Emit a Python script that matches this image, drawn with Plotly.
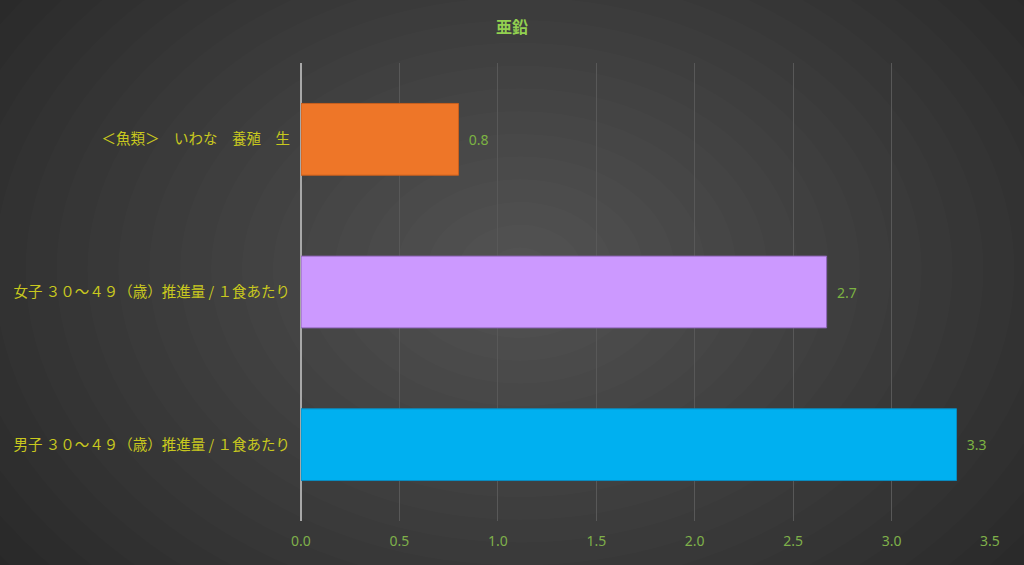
import plotly.graph_objects as go

categories = [
    "＜魚類＞　いわな　養殖　生",
    "女子 ３０～４９（歳）推進量 / １食あたり",
    "男子 ３０～４９（歳）推進量 / １食あたり",
]
values = [0.8, 2.67, 3.33]
bar_colors = ["#ee7628", "#cc99ff", "#00b0f0"]
line_colors = ["#c8601e", "#8e66b8", "#0a8cc0"]
x_ticks = [0.0, 0.5, 1.0, 1.5, 2.0, 2.5, 3.0, 3.5]
title_text = "亜鉛"

W, H = 1024, 565
L, R, T, B = 301, 34, 63, 44
pw, ph = W - L - R, H - T - B

def px2paper(x, y):
    return (x - L) / pw, (H - B - y) / ph

shapes = []
n = 22
cx, cy = 520, 270
rx_max, ry_max = 680, 500
for i in range(n):
    f = 1 - i / n
    x0, y0 = px2paper(cx - rx_max * f, cy - ry_max * f)
    x1, y1 = px2paper(cx + rx_max * f, cy + ry_max * f)
    shapes.append(dict(type="circle", xref="paper", yref="paper",
                       x0=x0, x1=x1, y0=y1, y1=y0,
                       fillcolor="rgba(255,255,255,0.0125)",
                       line=dict(width=0), layer="below"))

fig = go.Figure(go.Bar(
    x=values, y=categories, orientation="h",
    marker=dict(color=bar_colors, line=dict(color=line_colors, width=1)),
    texttemplate="  %{x:.1f}", textposition="outside",
    textfont=dict(color="#7cb342", size=14, family="Noto Sans"),
    cliponaxis=False, width=0.47,
))

fig.update_layout(
    width=W, height=H,
    margin=dict(l=L, r=R, t=T, b=B),
    paper_bgcolor="#262626",
    plot_bgcolor="rgba(0,0,0,0)",
    shapes=shapes,
    showlegend=False,
    title=dict(text="<b>" + title_text + "</b>", x=0.5, xref="container",
               y=1 - 27 / H, yanchor="middle", yref="container",
               font=dict(color="#92d050", size=16, family="Noto Sans CJK JP")),
    xaxis=dict(range=[0, 3.5], tickvals=x_ticks,
               ticktext=[f"{v:.1f}" for v in x_ticks],
               showgrid=True, gridcolor="#585858", gridwidth=1,
               zeroline=True, zerolinecolor="#a8a8a8", zerolinewidth=1.5,
               showline=False, ticks="",
               tickfont=dict(color="#7fb04a", size=14, family="Noto Sans"),
               ticklabelstandoff=10, fixedrange=True),
    yaxis=dict(autorange="reversed", showgrid=False, zeroline=False,
               showline=False, ticks="",
               tickfont=dict(color="#c8c81e", size=14.5, family="Noto Sans CJK JP"),
               ticklabelstandoff=10, fixedrange=True),
)

fig.write_html(
    "out.html",
    config={"displayModeBar": False},
    post_script="document.body.style.margin='0';document.body.style.background='#262626';",
)
